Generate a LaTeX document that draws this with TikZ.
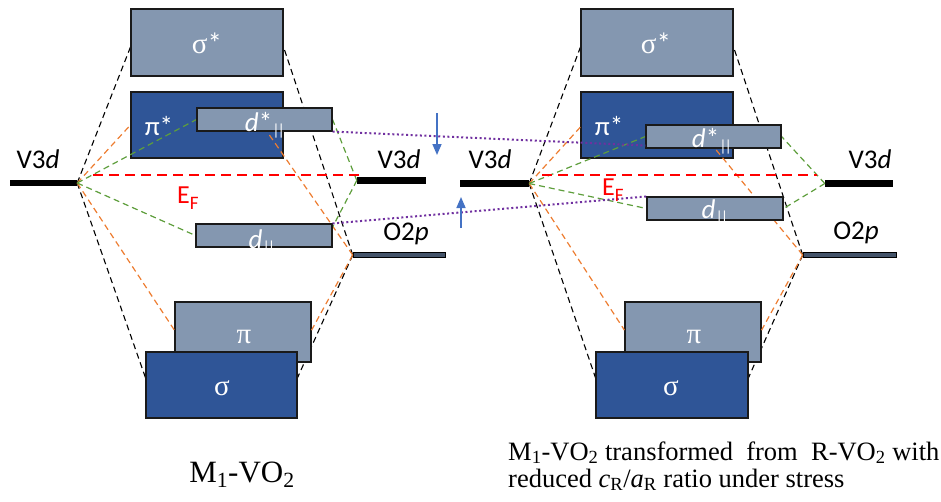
\documentclass[tikz,border=0pt]{standalone}
\usepackage{fontspec}
\setmainfont{Liberation Serif}
\newfontfamily\calf{Carlito}
\usetikzlibrary{calc,arrows.meta}
\definecolor{lightbox}{HTML}{8497B0}
\definecolor{darkbox}{HTML}{2F5597}
\definecolor{boxline}{HTML}{1A1A1A}
\definecolor{obar}{HTML}{44546A}
\definecolor{orng}{HTML}{ED7D31}
\definecolor{grn}{HTML}{5E9E3C}
\definecolor{purp}{HTML}{7030A0}
\definecolor{arrblue}{HTML}{4472C4}
\newcommand\vsub{\raisebox{-4pt}{\fontsize{16}{16}\selectfont|\kern-2pt|}}
\pgfdeclarelayer{lzero}
\pgfdeclarelayer{ltwo}
\pgfdeclarelayer{lthree}
\pgfdeclarelayer{lfour}
\pgfsetlayers{lzero,main,ltwo,lthree,lfour}
\begin{document}
\begin{tikzpicture}[x=1pt,y=-1pt,
  lbox/.style={draw=boxline,line width=1.1pt,fill=lightbox,inner sep=0pt},
  dbox/.style={draw=boxline,line width=1.1pt,fill=darkbox,inner sep=0pt},
  vbar/.style={fill=black,inner sep=0pt,minimum height=6.5pt},
  obarst/.style={draw=black,line width=0.6pt,fill=obar,inner sep=0pt,minimum height=5.5pt},
  blk/.style={black,line width=1.1pt,dash pattern=on 6pt off 4pt},
  org/.style={orng,line width=1.2pt,dash pattern=on 6pt off 4pt},
  grl/.style={grn,line width=1.2pt,dash pattern=on 6pt off 4pt},
  efl/.style={red,line width=2.4pt,dash pattern=on 10pt off 6pt},
  dotl/.style={purp,line width=2pt,dash pattern=on 2pt off 2.6pt},
  barr/.style={arrblue,line width=1.6pt,-{Triangle[width=9pt,length=11pt]}},
  lab/.style={font=\calf\fontsize{27}{27}\selectfont,inner sep=0pt,anchor=base},
  wlab/.style={lab,text=white},
  glab/.style={font=\fontsize{29}{29}\selectfont,inner sep=0pt,anchor=base,text=white},
  eflab/.style={font=\calf\fontsize{26}{26}\selectfont,inner sep=0pt,anchor=base west,text=red},
  captxt/.style={font=\fontsize{26.5}{26.5}\selectfont,inner sep=0pt}
]
\useasboundingbox (0,0) rectangle (941,501);

% ---------- big boxes and bars (main layer)
\path
  (207,42.5)  node[lbox,minimum width=152pt,minimum height=67pt] (ssL) {}
  (207,125)   node[dbox,minimum width=152pt,minimum height=66pt] (psL) {}
  (243,332)   node[lbox,minimum width=136pt,minimum height=60pt] (piL) {}
  (221.5,385) node[dbox,minimum width=151pt,minimum height=66pt] (sgL) {}
  (657,42.5)  node[lbox,minimum width=152pt,minimum height=67pt] (ssR) {}
  (657,125)   node[dbox,minimum width=152pt,minimum height=66pt] (psR) {}
  (693,332)   node[lbox,minimum width=136pt,minimum height=60pt] (piR) {}
  (672,385)   node[dbox,minimum width=152pt,minimum height=66pt] (sgR) {};
\path
  (43.5,183)  node[vbar,minimum width=67pt] (vL1) {}
  (391.5,180.5) node[vbar,minimum width=69pt] (vL2) {}
  (399,255)   node[obarst,minimum width=92pt] (oL) {}
  (494.5,183.5) node[vbar,minimum width=69pt] (vR1) {}
  (859,183.5) node[vbar,minimum width=68pt] (vR2) {}
  (849.5,255) node[obarst,minimum width=93pt] (oR) {};

% ---------- d boxes
\begin{pgfonlayer}{lthree}
\path
  (264.5,119.5) node[lbox,minimum width=135pt,minimum height=23pt] (dsL) {}
  (264,235.5)   node[lbox,minimum width=136pt,minimum height=23pt] (dpL) {}
  (713.5,136.5) node[lbox,minimum width=135pt,minimum height=23pt] (dsR) {}
  (715,208.5)   node[lbox,minimum width=136pt,minimum height=23pt] (dpR) {};
\end{pgfonlayer}

% ---------- black dashed (behind everything)
\begin{pgfonlayer}{lzero}
\draw[blk] (vL1.east) -- ($(ssL.north west)!0.567!(ssL.south west)$);
\draw[blk] (vL1.east) -- ($(sgL.north west)!0.39!(sgL.south west)$);
\draw[blk] (oL.west) -- ($(ssL.north east)!0.567!(ssL.south east)$);
\draw[blk] (oL.west) -- ($(sgL.north east)!0.39!(sgL.south east)$);
\draw[blk] (vR1.east) -- ($(ssR.north west)!0.567!(ssR.south west)$);
\draw[blk] (vR1.east) -- ($(sgR.north west)!0.39!(sgR.south west)$);
\draw[blk] (oR.west) -- ($(ssR.north east)!0.567!(ssR.south east)$);
\draw[blk] (oR.west) -- ($(sgR.north east)!0.39!(sgR.south east)$);
\end{pgfonlayer}

% ---------- orange, green, red
\begin{pgfonlayer}{ltwo}
\draw[org] (vL1.east) -- (psL.west);
\draw[org] (vL1.east) -- ($(piL.north west)!0.47!(piL.south west)$);
\draw[org] (oL.west) -- ($(piL.north east)!0.47!(piL.south east)$);
\draw[org] (oL.west) -- ($(dsL.south)+(2.5,0)$);
\draw[org] (vR1.east) -- ($(psR.north west)!0.53!(psR.south west)$);
\draw[org] (vR1.east) -- ($(piR.north west)!0.47!(piR.south west)$);
\draw[org] (oR.west) -- ($(piR.north east)!0.47!(piR.south east)$);
\draw[org] (oR.west) -- ($(dsR.south)+(1.5,0)$);
\draw[grl] (vL1.east) -- (dsL.west);
\draw[grl] (vL1.east) -- (dpL.west);
\draw[grl] (vL2.west) -- (dsL.east);
\draw[grl] (vL2.west) -- ($(dpL.north east)!0.15!(dpL.south east)$);
\draw[grl] (vR1.east) -- (dsR.west);
\draw[grl] (vR1.east) -- (dpR.west);
\draw[grl] (vR2.west) -- (dsR.east);
\draw[grl] (vR2.west) -- (dpR.east);
\coordinate (efL1) at (93,175);
\coordinate (efL2) at (365,175);
\coordinate (efR1) at (542,175);
\coordinate (efR2) at (817,175);
\draw[efl] (efL1) -- (efL2);
\draw[efl] (efR1) -- (efR2);
\end{pgfonlayer}

% ---------- purple dotted, arrows, labels
\begin{pgfonlayer}{lfour}
\draw[dotl] (dsL.south east) -- ($(dsR.south west)+(0,-3)$);
\draw[dotl] (dpL.north east) -- (dpR.north west);
\coordinate (aD1) at (437,113);
\coordinate (aD2) at (437,155);
\coordinate (aU1) at (461,228);
\coordinate (aU2) at (461,197);
\draw[barr] (aD1) -- (aD2);
\draw[barr] (aU1) -- (aU2);

\node[lab] (tV1) at (38,168) {V3\textit{d}};
\node[lab] (tV2) at (399,168) {V3\textit{d}};
\node[lab] (tV3) at (490,168) {V3\textit{d}};
\node[lab] (tV4) at (870,168) {V3\textit{d}};
\node[lab] (tO1) at (406,240) {O2\textit{p}};
\node[lab] (tO2) at (856,239) {O2\textit{p}};
\node[eflab] (tE1) at (177,203) {E\raisebox{-6pt}{\fontsize{19}{19}\selectfont F}};
\node[eflab] (tE2) at (602,195) {E\raisebox{-6pt}{\fontsize{19}{19}\selectfont F}};

\node[glab] (tss1) at (207,53) {σ{\calf *}};
\node[glab] (tss2) at (656,53) {σ{\calf *}};
\node[wlab] (tps1) at (159,135) {π*};
\node[wlab] (tps2) at (609,135) {π*};
\node[wlab] (tds1) at (265,131) {\textit{d}*\vsub};
\node[wlab] (tds2) at (712,147) {\textit{d}*\vsub};
\node[wlab] (tdp1) at (262,248) {\textit{d}\vsub};
\node[wlab] (tdp2) at (715,218) {\textit{d}\vsub};
\node[glab] (tpi1) at (244,343) {π};
\node[glab] (tpi2) at (694,343) {π};
\node[glab] (tsg1) at (222,395) {σ};
\node[glab] (tsg2) at (671,395) {σ};

\node[captxt,font=\fontsize{31}{31}\selectfont,anchor=base] (capL) at (242,482) {M\textsubscript{1}-VO\textsubscript{2}};
\node[captxt,anchor=base west] (capR1) at (508,460) {M\textsubscript{1}-VO\textsubscript{2} transformed\ \ from\ \ R-VO\textsubscript{2} with};
\node[captxt,anchor=base west] (capR2) at (508,487) {reduced \textit{c}\textsubscript{R}/\textit{a}\textsubscript{R} ratio under stress};
\end{pgfonlayer}
\end{tikzpicture}
\end{document}
